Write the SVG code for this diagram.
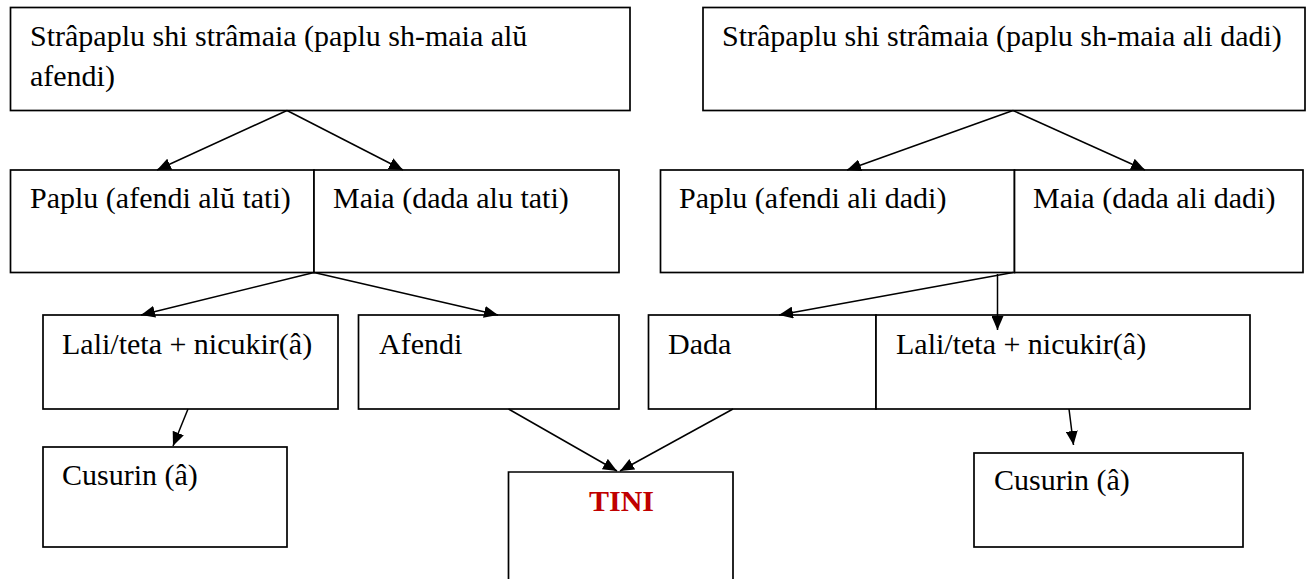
<svg xmlns="http://www.w3.org/2000/svg" width="1307" height="579" viewBox="0 0 1307 579">
<style>
  .box { fill: #ffffff; stroke: #000000; stroke-width: 1.7; }
  .t { font-family: 'Liberation Serif', 'Times New Roman', serif; font-size: 30px; fill: #000000; }
  .tini { font-family: 'Liberation Serif', 'Times New Roman', serif; font-size: 30px; font-weight: bold; fill: #C00000; }
  .edge { fill: none; stroke: #000000; stroke-width: 1.5; marker-end: url(#arr); }
</style>
<defs>
  <marker id="arr" markerUnits="userSpaceOnUse" markerWidth="14" markerHeight="12" refX="14" refY="6" orient="auto">
    <path d="M0,0 L14,6 L0,12 Z" fill="#000000"/>
  </marker>
</defs>
<rect x="0" y="0" width="1307" height="579" fill="#ffffff"/>

<g id="node-strapaplu-afendi">
  <rect class="box" x="10.5" y="7.5" width="619.5" height="103"/>
  <text class="t" x="30" y="46">Strâpaplu shi strâmaia (paplu sh-maia alŭ</text>
  <text class="t" x="30" y="86">afendi)</text>
</g>
<g id="node-strapaplu-dadi">
  <rect class="box" x="703" y="7.5" width="602" height="103"/>
  <text class="t" x="722" y="46">Strâpaplu shi strâmaia (paplu sh-maia ali dadi)</text>
</g>

<g id="node-paplu-tati">
  <rect class="box" x="10.5" y="170" width="303.5" height="102.5"/>
  <text class="t" x="30" y="208">Paplu (afendi alŭ tati)</text>
</g>
<g id="node-maia-tati">
  <rect class="box" x="314" y="170" width="305" height="102.5"/>
  <text class="t" x="333" y="208">Maia (dada alu tati)</text>
</g>
<g id="node-paplu-dadi">
  <rect class="box" x="660.5" y="170" width="354" height="102.5"/>
  <text class="t" x="679" y="208">Paplu (afendi ali dadi)</text>
</g>
<g id="node-maia-dadi">
  <rect class="box" x="1014.5" y="170" width="288.5" height="102.5"/>
  <text class="t" x="1033" y="208">Maia (dada ali dadi)</text>
</g>

<g id="node-lali-teta-left">
  <rect class="box" x="43" y="315" width="295" height="94"/>
  <text class="t" x="62" y="354">Lali/teta + nicukir(â)</text>
</g>
<g id="node-afendi">
  <rect class="box" x="358.5" y="315" width="260.5" height="94"/>
  <text class="t" x="379" y="354">Afendi</text>
</g>
<g id="node-dada">
  <rect class="box" x="648.5" y="315" width="227.5" height="94"/>
  <text class="t" x="668" y="354">Dada</text>
</g>
<g id="node-lali-teta-right">
  <rect class="box" x="876" y="315" width="374" height="94"/>
  <text class="t" x="896" y="354">Lali/teta + nicukir(â)</text>
</g>

<g id="node-cusurin-left">
  <rect class="box" x="43" y="447" width="244" height="100"/>
  <text class="t" x="62" y="485">Cusurin (â)</text>
</g>
<g id="node-tini">
  <path class="box" d="M508.5,590 L508.5,472 L733,472 L733,590"/>
  <text class="tini" x="589" y="511">TINI</text>
</g>
<g id="node-cusurin-right">
  <rect class="box" x="974" y="453" width="269" height="94"/>
  <text class="t" x="994" y="490">Cusurin (â)</text>
</g>

<g id="connectors">
  <line class="edge" x1="287" y1="110.5" x2="157" y2="170"/>
  <line class="edge" x1="287" y1="110.5" x2="403" y2="170"/>
  <line class="edge" x1="1013" y1="110.5" x2="847" y2="170"/>
  <line class="edge" x1="1013" y1="110.5" x2="1145" y2="170"/>
  <line class="edge" x1="314" y1="272.5" x2="141" y2="315"/>
  <line class="edge" x1="314" y1="272.5" x2="498" y2="315"/>
  <line class="edge" x1="1013" y1="272.5" x2="779" y2="315"/>
  <line class="edge" x1="997.5" y1="274" x2="997.5" y2="330"/>
  <line class="edge" x1="188" y1="409" x2="173" y2="446"/>
  <line class="edge" x1="1069" y1="409" x2="1073.5" y2="445"/>
  <line class="edge" x1="508.5" y1="409" x2="617" y2="471"/>
  <line class="edge" x1="733" y1="409" x2="620" y2="471"/>
</g>
</svg>
